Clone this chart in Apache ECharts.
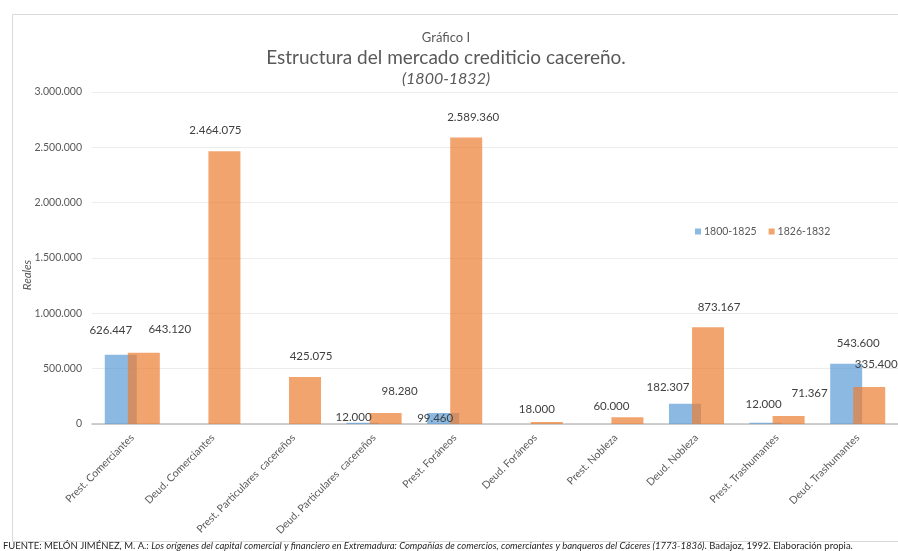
<!DOCTYPE html>
<html>
<head>
<meta charset="utf-8">
<script src="https://cdn.jsdelivr.net/npm/echarts@6/dist/echarts.min.js"></script>
<style>
  html, body { margin: 0; padding: 0; background: #fff; }
  #chart { width: 898px; height: 551px; }
</style>
</head>
<body>
<div id="chart"></div>
<script>
// categorías y valores (reales)
const categories = [
  'Prest. Comerciantes',
  'Deud. Comerciantes',
  'Prest. Particulares  cacereños',
  'Deud. Particulares  cacereños',
  'Prest. Foráneos',
  'Deud. Foráneos',
  'Prest. Nobleza',
  'Deud. Nobleza',
  'Prest. Trashumantes',
  'Deud. Trashumantes'
];
const seriesNames = ['1800-1825', '1826-1832'];
const values1800_1825 = [626447, null, null, 12000, 99460, null, null, 182307, 12000, 543600];
const values1826_1832 = [643120, 2464075, 425075, 98280, 2589360, 18000, 60000, 873167, 71367, 335400];
const yMin = 0, yMax = 3000000, yStep = 500000;

// desplazamiento de etiquetas (colocadas a mano en el original)
const offsets1800 = [[-10, -18], null, null, [-9, 1], [-8, 11], null, null, [-17, -11], [-2, -12], [12, -15]];
const offsets1826 = [[26, -18], [-9, -15], [6, -15], [14, -16], [7, -14], [-10, -7], [-16, -5], [11, -14], [21, -17], [7, -17]];

const fmt = v => String(Math.round(v)).replace(/\B(?=(\d{3})+(?!\d))/g, '.');
const FONT = 'Lato, "Open Sans", sans-serif';

const withLabels = (vals, offs) => vals.map((v, i) => ({
  value: v,
  label: offs[i] ? { offset: offs[i] } : { show: false }
}));

const chart = echarts.init(document.getElementById('chart'), null, { renderer: 'canvas' });

chart.setOption({
  animation: false,
  textStyle: { fontFamily: FONT },
  title: [
    { text: 'Gráfico I', left: 441, top: 26, textAlign: 'center',
      textStyle: { fontFamily: FONT, fontSize: 13, fontWeight: 'normal', color: '#595959' } },
    { text: 'Estructura del mercado crediticio cacereño.', left: 441, top: 43, textAlign: 'center',
      textStyle: { fontFamily: FONT, fontSize: 19, fontWeight: 'normal', color: '#595959' } },
    { text: '(1800-1832)', left: 441, top: 66, textAlign: 'center',
      textStyle: { fontFamily: FONT, fontSize: 16, fontStyle: 'italic', fontWeight: 'normal', color: '#595959' } }
  ],
  legend: {
    left: 690, top: 221,
    itemWidth: 6, itemHeight: 6, itemGap: 12,
    icon: 'rect',
    textStyle: { fontFamily: FONT, fontSize: 10.5, color: '#595959', padding: [0, 0, 0, -2] },
    data: seriesNames
  },
  grid: { left: 92, top: 92, width: 810, height: 332, containLabel: false },
  xAxis: {
    type: 'category',
    data: categories,
    axisLine: { lineStyle: { color: '#bfbfbf', width: 1.5 } },
    axisTick: { show: false },
    axisLabel: { rotate: 45, interval: 0, margin: 12, fontSize: 10.5, color: '#595959', fontFamily: FONT }
  },
  yAxis: {
    type: 'value',
    min: yMin, max: yMax, interval: yStep,
    axisLine: { show: false },
    axisTick: { show: false },
    axisLabel: { formatter: fmt, margin: 10, fontSize: 10.5, color: '#595959', fontFamily: FONT },
    splitLine: { lineStyle: { color: '#ececec', width: 1 } }
  },
  series: [
    {
      name: seriesNames[0],
      type: 'bar',
      barWidth: 32,
      barGap: '-28%',
      data: withLabels(values1800_1825, offsets1800),
      itemStyle: { color: 'rgba(91,155,213,0.7)' },
      label: { show: true, position: 'top', distance: 0, formatter: p => fmt(p.value),
        fontFamily: FONT, fontSize: 11.5, color: '#404040' }
    },
    {
      name: seriesNames[1],
      type: 'bar',
      barWidth: 32,
      barGap: '-28%',
      data: withLabels(values1826_1832, offsets1826),
      itemStyle: { color: 'rgba(237,125,49,0.7)' },
      label: { show: true, position: 'top', distance: 0, formatter: p => fmt(p.value),
        fontFamily: FONT, fontSize: 11.5, color: '#404040' }
    }
  ],
  graphic: [
    { type: 'rect', left: 10, top: 12, z: -1, silent: true,
      shape: { width: 900, height: 527 },
      style: { fill: null, stroke: '#d9d9d9', lineWidth: 1 } },
    // título del eje Y
    { type: 'text', x: 27, y: 275, rotation: Math.PI / 2, silent: true,
      style: { text: 'Reales', fontFamily: FONT, fontSize: 11.5, fontStyle: 'italic', fill: '#595959',
        align: 'center', verticalAlign: 'middle' } },
    { type: 'text', left: 3, top: 541, silent: true,
      style: {
        text: '{n|FUENTE: MELÓN JIMÉNEZ, M. A.: }{i|Los orígenes del capital comercial y financiero en Extremadura: Compañías de comercios, comerciantes y banqueros del Cáceres (1773-1836)}{n|. Badajoz, 1992. Elaboración propia.}',
        rich: {
          n: { fontFamily: FONT, fontSize: 9.5, fill: '#262626' },
          i: { fontFamily: FONT, fontSize: 9.5, fontStyle: 'italic', fill: '#262626' }
        }
      } }
  ]
});
</script>
</body>
</html>
